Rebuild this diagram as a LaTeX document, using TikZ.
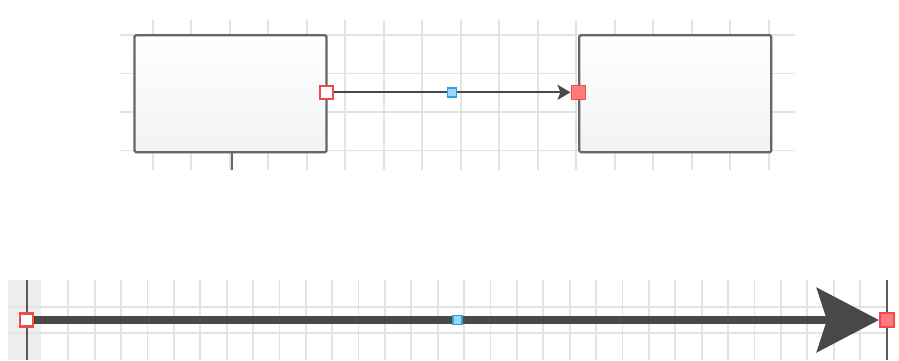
\documentclass[tikz,border=0pt]{standalone}
\usetikzlibrary{arrows.meta,shadows}
\definecolor{gridc}{HTML}{E3E3E3}
\definecolor{boxline}{HTML}{666666}
\definecolor{conn}{HTML}{484848}
\definecolor{mkred}{HTML}{EE4B4B}
\definecolor{mkredfill}{HTML}{FF7A7A}
\definecolor{mkblue}{HTML}{2AA2E6}
\definecolor{mkbluefill}{HTML}{9AD6F8}
\definecolor{bandc}{HTML}{EDEDED}
\tikzset{
  gridline/.style={draw=gridc, line width=1.8pt},
  shapebox/.style={draw=boxline, line width=2.2pt, rounded corners=1.5pt,
    top color=white, bottom color=black!5, minimum width=192pt, minimum height=117pt,
    inner sep=0pt, drop shadow={opacity=0.15, shadow xshift=1pt, shadow yshift=-1pt}},
  srcmark/.style={draw=mkred, fill=white, line width=2.2pt, minimum size=13pt, inner sep=0pt},
  dstmark/.style={draw=mkred, fill=mkredfill, line width=1.6pt, minimum size=14pt, inner sep=0pt},
  midmark/.style={draw=mkblue, fill=mkbluefill, line width=1.4pt, minimum size=9pt, inner sep=0pt},
  thinconn/.style={draw=conn, line width=2pt},
  thickconn/.style={draw=conn, line width=8pt},
  edgebar/.style={draw=conn!90, line width=2pt},
}
\begin{document}
\begin{tikzpicture}[x=1pt,y=-1pt]
\useasboundingbox (0,0) rectangle (899,360);
% top grid
\foreach \k in {0,...,16} \draw[gridline] ({152.7+\k*38.5},20) -- ({152.7+\k*38.5},170);
\foreach \y in {35,73.5,112,150.5} \draw[gridline] (120,\y) -- (795,\y);
% bottom band + grid
\fill[bandc] (8,280) rectangle (41,360);
\foreach \k in {0,...,30} \draw[gridline] ({68.3+\k*26.39},280) -- ({68.3+\k*26.39},360);
\foreach \y in {306.7,333.3} \draw[gridline] (8,\y) -- (886,\y);
% boxes
\node[shapebox] (a) at (230.5,93.7) {};
\node[shapebox] (b) at (675.3,93.7) {};
\coordinate (astub) at (231.7,170);
\draw[boxline, line width=2pt] (a.south -| astub) -- (astub);
% top connector
\node[srcmark] (s1) at (326.7,92.3) {};
\node[midmark] (m1) at (452,92.3) {};
\node[dstmark] (e1) at (578.3,92.3) {};
\draw[thinconn, -{Stealth[length=13pt,width=15pt,inset=3pt]}] (s1.center) -- (e1.west);
\node[srcmark] at (s1) {};
\node[midmark] at (m1) {};
% bottom
\coordinate (lt) at (26.7,280); \coordinate (lb) at (26.7,360);
\coordinate (rt) at (886.7,280); \coordinate (rb) at (886.7,360);
\draw[edgebar] (lt) -- (lb);
\draw[edgebar] (rt) -- (rb);
\node[srcmark] (s2) at (26.7,320) {};
\node[midmark] (m2) at (457.3,320) {};
\node[dstmark] (e2) at (886.7,320) {};
\draw[thickconn, -{Stealth[length=62pt,width=64pt,inset=10pt]}] (s2.center) -- (e2.west);
\node[srcmark] at (s2) {};
\node[midmark] at (m2) {};
\node[dstmark] at (e2) {};
\end{tikzpicture}
\end{document}
